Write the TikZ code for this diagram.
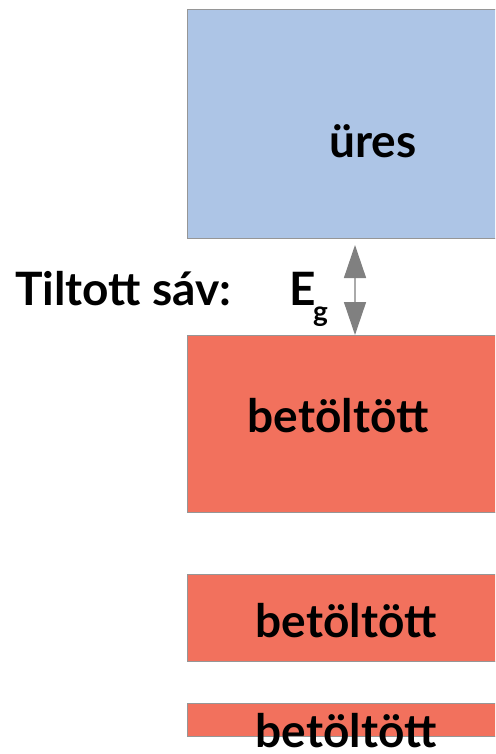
\documentclass[tikz,border=0pt]{standalone}
\usepackage{fontspec}
\setmainfont{Lato}
\usetikzlibrary{arrows.meta}
\definecolor{emptyblue}{RGB}{173,197,230}
\definecolor{fullred}{RGB}{242,113,93}
\definecolor{edgegray}{RGB}{150,150,150}
\definecolor{tipgray}{RGB}{128,128,128}
\definecolor{shaftgray}{RGB}{170,170,170}
\tikzset{
  band/.style={draw=edgegray, line width=1pt, anchor=north west, inner sep=0pt, minimum width=320pt},
  lbl/.style={anchor=base, inner sep=0pt, font=\fontsize{46}{50}\selectfont\bfseries},
}
\begin{document}
\begin{tikzpicture}[x=1pt,y=-1pt]
\clip (0,0) rectangle (495,754);
\useasboundingbox (0,0) rectangle (495,754);
\node[band, fill=emptyblue, minimum height=229pt] (cond) at (187,9) {};
\node[band, fill=fullred, minimum height=177pt] (val1) at (187,335) {};
\node[band, fill=fullred, minimum height=87pt] (val2) at (187,574) {};
\node[band, fill=fullred, minimum height=33pt] (val3) at (187,703) {};
\node[lbl] (tures) at (373,158) {üres};
\node[lbl] (tval1) at (338,432) {betöltött};
\node[lbl] (tval2) at (346,637) {betöltött};
\node[lbl] (tval3) at (346,747) {betöltött};
\node[lbl, anchor=base west] (gap) at (15,305) {Tiltott sáv:};
\node[lbl, anchor=base west] (eg) at (289,305) {E};
\node[anchor=base west, inner sep=0pt, font=\fontsize{28}{30}\selectfont\bfseries] (sub) at (313,321) {g};
\coordinate (gtop) at (355,245);
\draw[shaftgray, line width=1.5pt,
  {Triangle[length=33pt,width=22pt,color=tipgray]}-{Triangle[length=33pt,width=22pt,color=tipgray]}]
  (gtop) -- (gtop |- val1.north);
\end{tikzpicture}
\end{document}
